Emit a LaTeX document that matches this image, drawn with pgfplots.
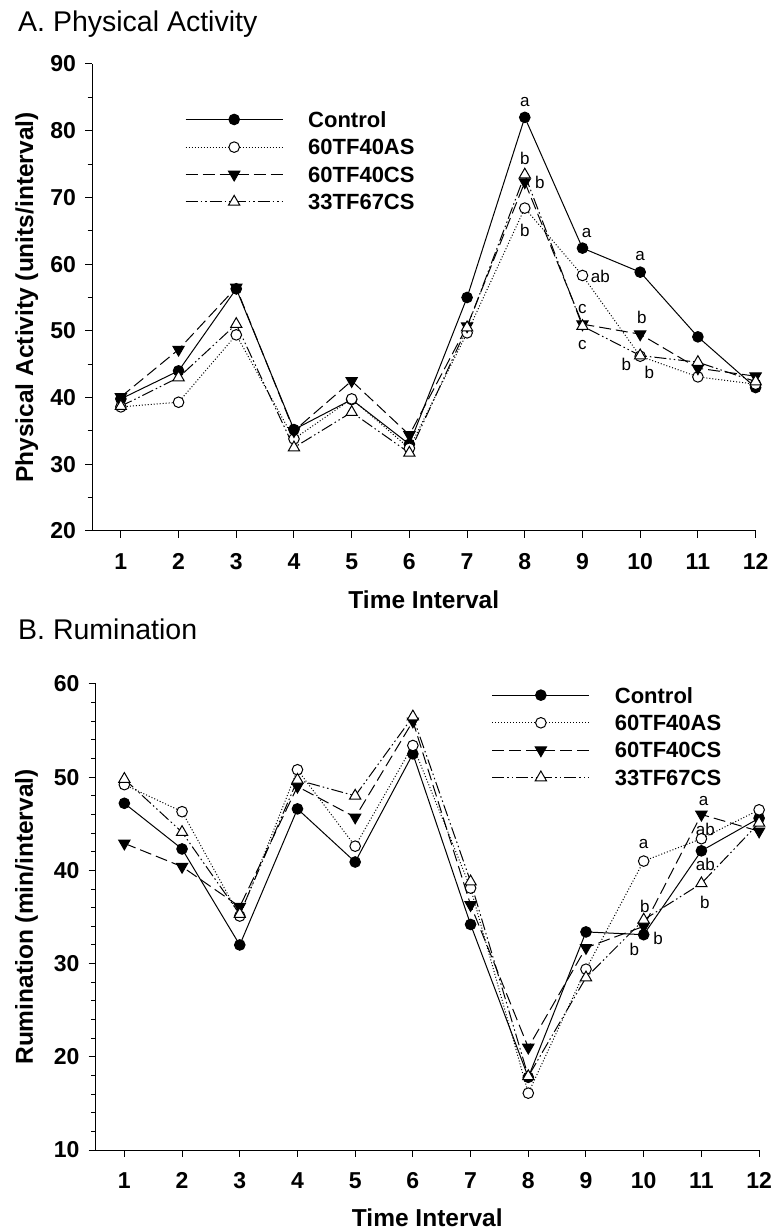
\documentclass[border=0pt]{standalone}
\usepackage{fontspec}
\setmainfont{Liberation Sans}
\usepackage{pgfplots}
\pgfplotsset{compat=1.18}

\pgfplotstableread{
x  ctrl  as    cs    tf
1  39.8  38.6  40.1  38.7
2  44.0  39.3  47.2  43.0
3  56.3  49.4  56.5  51.0
4  35.2  33.8  35.0  32.5
5  39.7  39.8  42.5  37.8
6  33.0  32.4  34.4  31.7
7  55.0  49.7  50.7  50.5
8  82.0  68.4  72.3  73.4
9  62.4  58.3  51.0  50.7
10 58.8  46.2  49.5  46.3
11 49.1  43.1  44.4  45.3
12 41.5  42.0  43.2  42.4
}\activity

\pgfplotstableread{
x  ctrl  as    cs    tf
1  47.2  49.2  42.9  49.8
2  42.3  46.3  40.4  44.1
3  32.0  35.1  36.1  35.3
4  46.6  50.8  49.0  49.7
5  40.9  42.6  45.7  48.0
6  52.5  53.4  56.0  56.5
7  34.2  38.1  36.3  38.8
8  17.8  16.1  21.0  17.9
9  33.4  29.4  31.7  28.5
10 33.1  41.0  34.0  34.7
11 42.1  43.4  46.0  38.6
12 45.6  46.5  44.2  45.1
}\rumination

\tikzset{lett/.style={font=\fontsize{17bp}{20bp}\selectfont, inner sep=0pt}}

\pgfplotsset{
  myaxis/.style={
    scale only axis,
    width=663.6bp,
    xmin=0.5, xmax=12,
    axis lines=left,
    axis line style={-, line width=1bp},
    tick align=outside,
    xtick={1,...,12},
    major tick length=7bp,
    minor tick length=4.5bp,
    every tick/.style={line width=1bp, black},
    /pgf/number format/assume math mode=true,
    ticklabel style={font=\fontsize{23bp}{26bp}\selectfont\bfseries},
    xticklabel style={yshift=-11.5bp, text height=16.5bp, text depth=0pt},
    yticklabel style={xshift=-5.5bp},
    label style={font=\fontsize{24.5bp}{28bp}\selectfont\bfseries},
    xlabel={Time Interval},
    xlabel style={at={(axis description cs:0.5,-0.1649)}, anchor=base},
    title style={font=\fontsize{28.5bp}{32bp}\selectfont, anchor=base west, inner sep=0pt},
    clip=false,
    legend cell align=left,
    legend image code/.code={%
      \draw[mark repeat=2,mark phase=2,##1] plot coordinates {(0bp,0bp) (48.5bp,0bp) (97bp,0bp)};
      \path (122bp,0bp);},
    legend style={draw=none, fill=none, inner sep=0pt, anchor=north west,
      font=\fontsize{22bp}{25bp}\selectfont\bfseries,
      nodes={inner sep=0pt, text depth=0pt}, row sep=12bp},
  },
  sctrl/.style={black, line width=1bp, solid, mark=*, mark size=5.3bp,
      mark options={solid, fill=black, line width=1bp}},
  sas/.style={black, line width=1bp, dash pattern=on 1bp off 2bp, mark=*, mark size=5.3bp,
      mark options={solid, fill=white, draw=black, line width=1bp}},
  scs/.style={black, line width=1bp, dash pattern=on 12bp off 5bp, mark=triangle*, mark size=6.5bp,
      mark options={solid, fill=black, rotate=180, line width=1bp}},
  stf/.style={black, line width=1bp, dash pattern=on 12bp off 3bp on 1.5bp off 3bp on 1.5bp off 3bp,
      mark=triangle*, mark size=6.5bp,
      mark options={solid, fill=white, draw=black, line width=1bp}},
}

\begin{document}
\begin{tikzpicture}
\useasboundingbox (0,0) rectangle (775bp,1230bp);

% ---------------- A. Physical Activity ----------------
\begin{axis}[myaxis,
  at={(92bp,699bp)}, anchor=south west,
  height=467bp,
  ymin=20, ymax=90, ytick={20,30,...,90},
  minor y tick num=1,
  ylabel={Physical Activity (units/interval)},
  ylabel style={at={(axis description cs:-0.0889,0.5)}, anchor=base},
  title={A. Physical Activity},
  title style={at={(axis description cs:-0.1115,1.0578)}},
  legend style={at={(axis description cs:0.1401,0.8987)}},
]
\addplot[sctrl] table[x=x,y=ctrl] {\activity};
\addlegendentry{Control}
\addplot[sas] table[x=x,y=as] {\activity};
\addlegendentry{60TF40AS}
\addplot[scs] table[x=x,y=cs] {\activity};
\addlegendentry{60TF40CS}
\addplot[stf] table[x=x,y=tf] {\activity};
\addlegendentry{33TF67CS}

\node[lett] at (axis cs:8.0,84.3) {a};
\node[lett] at (axis cs:8.0,75.8) {b};
\node[lett] at (axis cs:8.26,72.2) {b};
\node[lett] at (axis cs:8.0,65.05) {b};
\node[lett] at (axis cs:9.07,64.65) {a};
\node[lett] at (axis cs:9.31,58.1) {ab};
\node[lett] at (axis cs:9.0,53.2) {c};
\node[lett] at (axis cs:9.0,47.9) {c};
\node[lett] at (axis cs:10.0,61.2) {a};
\node[lett] at (axis cs:10.03,52.0) {b};
\node[lett] at (axis cs:9.76,44.9) {b};
\node[lett] at (axis cs:10.16,43.7) {b};
\end{axis}

% ---------------- B. Rumination ----------------
\begin{axis}[myaxis,
  at={(95.5bp,80bp)}, anchor=south west,
  height=466bp,
  ymin=10, ymax=60, ytick={10,20,...,60},
  minor y tick num=4,
  ylabel={Rumination (min/interval)},
  ylabel style={at={(axis description cs:-0.0942,0.5)}, anchor=base},
  title={B. Rumination},
  title style={at={(axis description cs:-0.1168,1.0837)}},
  legend style={at={(axis description cs:0.597,0.9936)}},
]
\addplot[sctrl] table[x=x,y=ctrl] {\rumination};
\addlegendentry{Control}
\addplot[sas] table[x=x,y=as] {\rumination};
\addlegendentry{60TF40AS}
\addplot[scs] table[x=x,y=cs] {\rumination};
\addlegendentry{60TF40CS}
\addplot[stf] table[x=x,y=tf] {\rumination};
\addlegendentry{33TF67CS}

\node[lett] at (axis cs:10.0,42.86) {a};
\node[lett] at (axis cs:10.02,36.14) {b};
\node[lett] at (axis cs:10.25,32.75) {b};
\node[lett] at (axis cs:9.84,31.5) {b};
\node[lett] at (axis cs:11.04,47.46) {a};
\node[lett] at (axis cs:11.07,44.43) {ab};
\node[lett] at (axis cs:11.07,40.6) {ab};
\node[lett] at (axis cs:11.06,36.57) {b};
\end{axis}
\end{tikzpicture}
\end{document}
